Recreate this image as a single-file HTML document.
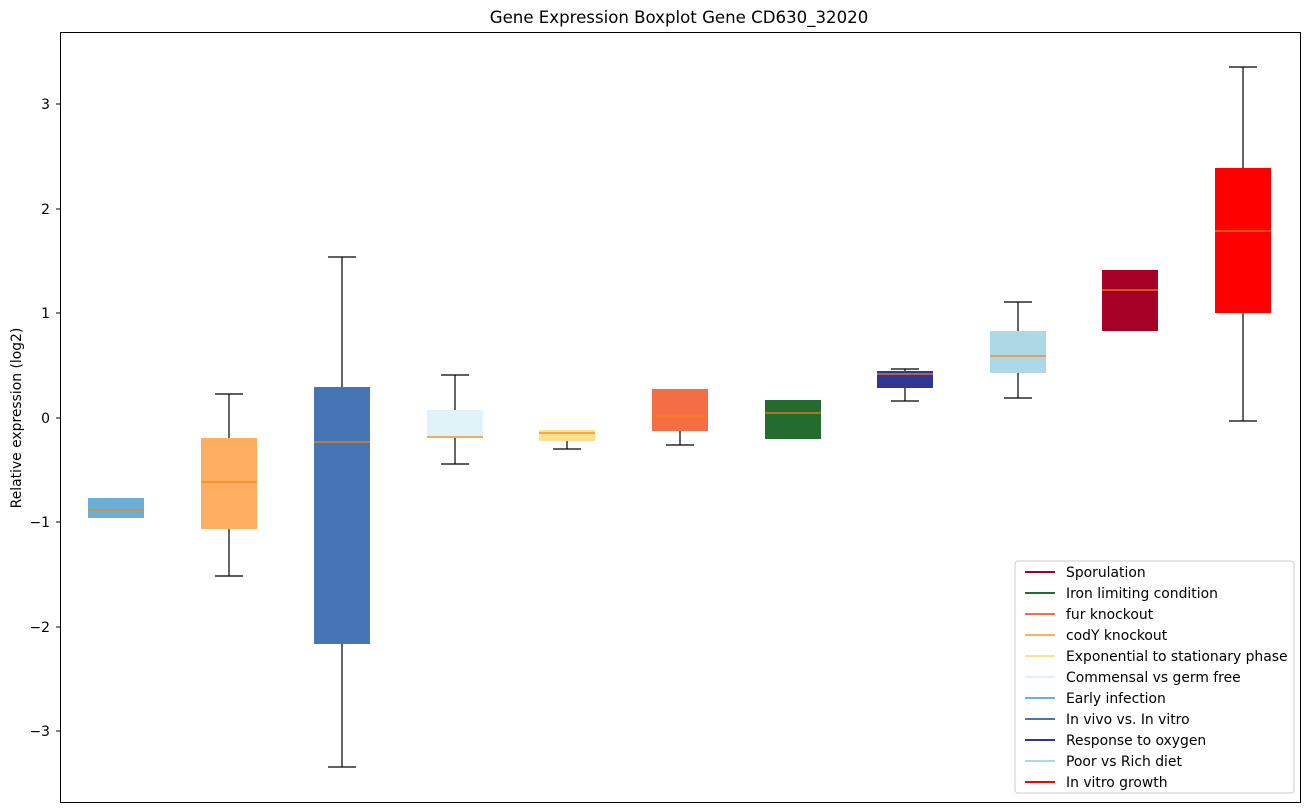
<!DOCTYPE html><html><head><style>body{margin:0;background:#fff}svg{display:block;font-family:"DejaVu Sans","Liberation Sans",sans-serif}</style></head><body>
<svg width="1309" height="812" viewBox="0 0 1309 812">
<text x="679" y="23" font-size="16.6" text-anchor="middle">Gene Expression Boxplot Gene CD630_32020</text>
<g font-size="13.9" text-anchor="end">
<line x1="56" y1="104" x2="60" y2="104" stroke="#000"/><text x="50" y="109">3</text>
<line x1="56" y1="209" x2="60" y2="209" stroke="#000"/><text x="50" y="214">2</text>
<line x1="56" y1="313" x2="60" y2="313" stroke="#000"/><text x="50" y="318">1</text>
<line x1="56" y1="418" x2="60" y2="418" stroke="#000"/><text x="50" y="423">0</text>
<line x1="56" y1="522" x2="60" y2="522" stroke="#000"/><text x="50" y="527">−1</text>
<line x1="56" y1="627" x2="60" y2="627" stroke="#000"/><text x="50" y="632">−2</text>
<line x1="56" y1="731" x2="60" y2="731" stroke="#000"/><text x="50" y="736">−3</text>
</g>
<text transform="translate(21,418) rotate(-90)" font-size="13.9" text-anchor="middle">Relative expression (log2)</text>
<g stroke="#000" stroke-width="1.2">
<line x1="229" y1="394" x2="229" y2="576"/><line x1="215" y1="394" x2="243" y2="394"/><line x1="215" y1="576" x2="243" y2="576"/>
<line x1="342" y1="257" x2="342" y2="767"/><line x1="328" y1="257" x2="356" y2="257"/><line x1="328" y1="767" x2="356" y2="767"/>
<line x1="455" y1="375" x2="455" y2="464"/><line x1="441" y1="375" x2="469" y2="375"/><line x1="441" y1="464" x2="469" y2="464"/>
<line x1="567" y1="430" x2="567" y2="449"/><line x1="553" y1="449" x2="581" y2="449"/>
<line x1="680" y1="430" x2="680" y2="445"/><line x1="666" y1="445" x2="694" y2="445"/>
<line x1="905" y1="369" x2="905" y2="401"/><line x1="891" y1="369" x2="919" y2="369"/><line x1="891" y1="401" x2="919" y2="401"/>
<line x1="1018" y1="302" x2="1018" y2="398"/><line x1="1004" y1="302" x2="1032" y2="302"/><line x1="1004" y1="398" x2="1032" y2="398"/>
<line x1="1243" y1="67" x2="1243" y2="421"/><line x1="1229" y1="67" x2="1257" y2="67"/><line x1="1229" y1="421" x2="1257" y2="421"/>
</g>
<g>
<rect x="88" y="498" width="56" height="20" fill="#6baed6"/>
<rect x="201" y="438" width="56" height="91" fill="#fdae61"/>
<rect x="314" y="387" width="56" height="257" fill="#4575b4"/>
<rect x="427" y="410" width="56" height="28" fill="#e0f3f8"/>
<rect x="539" y="430" width="56" height="11" fill="#fee090"/>
<rect x="652" y="389" width="56" height="42" fill="#f46d43"/>
<rect x="765" y="400" width="56" height="39" fill="#236b2e"/>
<rect x="877" y="371" width="56" height="17" fill="#313695"/>
<rect x="990" y="331" width="56" height="42" fill="#add8e6"/>
<rect x="1102" y="270" width="56" height="61" fill="#a50026"/>
<rect x="1215" y="168" width="56" height="145" fill="#ff0000"/>
</g>
<g stroke="#ff7f0e" stroke-width="1.3">
<line x1="88" y1="510" x2="144" y2="510"/><line x1="201" y1="482" x2="257" y2="482"/><line x1="314" y1="442" x2="370" y2="442"/>
<line x1="427" y1="437" x2="483" y2="437"/><line x1="539" y1="433" x2="595" y2="433"/><line x1="652" y1="416" x2="708" y2="416"/>
<line x1="765" y1="413" x2="821" y2="413"/><line x1="877" y1="374" x2="933" y2="374"/><line x1="990" y1="356" x2="1046" y2="356"/>
<line x1="1102" y1="290" x2="1158" y2="290"/><line x1="1215" y1="231" x2="1271" y2="231"/>
</g>
<rect x="60.5" y="32.5" width="1240" height="770" fill="none" stroke="#000"/>
<rect x="1015" y="561" width="279" height="232" fill="#fff" fill-opacity="0.8" stroke="#ccc" rx="3"/>
<g font-size="13.9" stroke-width="2">
<line x1="1025" y1="572" x2="1055" y2="572" stroke="#a50026"/><text x="1066" y="577">Sporulation</text>
<line x1="1025" y1="593" x2="1055" y2="593" stroke="#236b2e"/><text x="1066" y="598">Iron limiting condition</text>
<line x1="1025" y1="614" x2="1055" y2="614" stroke="#f46d43"/><text x="1066" y="619">fur knockout</text>
<line x1="1025" y1="635" x2="1055" y2="635" stroke="#fdae61"/><text x="1066" y="640">codY knockout</text>
<line x1="1025" y1="656" x2="1055" y2="656" stroke="#fee090"/><text x="1066" y="661">Exponential to stationary phase</text>
<line x1="1025" y1="677" x2="1055" y2="677" stroke="#e0f3f8"/><text x="1066" y="682">Commensal vs germ free</text>
<line x1="1025" y1="698" x2="1055" y2="698" stroke="#6baed6"/><text x="1066" y="703">Early infection</text>
<line x1="1025" y1="719" x2="1055" y2="719" stroke="#4575b4"/><text x="1066" y="724">In vivo vs. In vitro</text>
<line x1="1025" y1="740" x2="1055" y2="740" stroke="#313695"/><text x="1066" y="745">Response to oxygen</text>
<line x1="1025" y1="761" x2="1055" y2="761" stroke="#add8e6"/><text x="1066" y="766">Poor vs Rich diet</text>
<line x1="1025" y1="782" x2="1055" y2="782" stroke="#ff0000"/><text x="1066" y="787">In vitro growth</text>
</g>
</svg></body></html>
